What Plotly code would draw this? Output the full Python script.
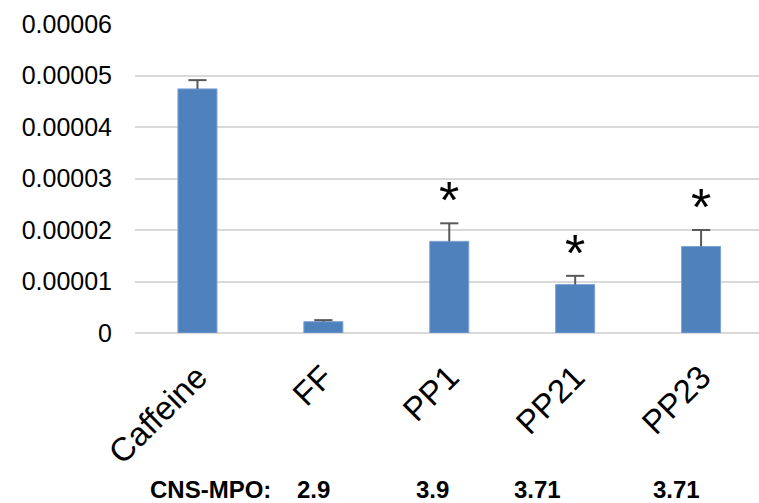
import plotly.graph_objects as go

categories = ["Caffeine", "FF", "PP1", "PP21", "PP23"]
values = [4.74e-5, 0.22e-5, 1.78e-5, 0.94e-5, 1.68e-5]
errors = [0.17e-5, 0.03e-5, 0.35e-5, 0.17e-5, 0.32e-5]
significant = [False, False, True, True, True]

y_tickvals = [0, 1e-5, 2e-5, 3e-5, 4e-5, 5e-5, 6e-5]
y_ticktext = ["0", "0.00001", "0.00002", "0.00003", "0.00004", "0.00005", "0.00006"]

mpo_label = "CNS-MPO:"
mpo_label_pixel_x = 210
mpo_values = ["2.9", "3.9", "3.71", "3.71"]
mpo_pixel_x = [313, 432, 537, 676]

W, H = 759, 503
ML, MR, MT, MB = 135, 0, 24, 170
PW = W - ML - MR
PH = H - MT - MB


def px_to_paper_x(px):
    return (px - ML) / PW


def py_to_paper_y(py):
    return (H - MB - py) / PH


err_tops = [v + e for v, e in zip(values, errors)]

fig = go.Figure()
fig.add_trace(go.Bar(
    x=categories, y=values,
    width=0.31,
    marker=dict(color="#4f81bd", line=dict(color="#7da3d3", width=1)),
    error_y=dict(type="data", array=errors, symmetric=False, arrayminus=[0] * len(errors),
                 color="#595959", thickness=2, width=0),
))
# error-bar caps (top only, as in the reference)
fig.add_trace(go.Scatter(
    x=categories, y=err_tops, mode="markers", hoverinfo="skip",
    marker=dict(symbol="line-ew", size=13, line=dict(color="#595959", width=2)),
))

annotations = []
for c, t, s in zip(categories, err_tops, significant):
    if s:
        annotations.append(dict(x=c, y=t, xref="x", yref="y", text="*",
                                showarrow=False, yanchor="middle", yshift=23,
                                font=dict(family="Liberation Sans, Arial", size=52, color="#000000")))

bold_font = dict(family="Liberation Sans Narrow, Arial Narrow, Liberation Sans", size=24,
                 color="#000000", weight="bold")
annotations.append(dict(x=px_to_paper_x(mpo_label_pixel_x), y=py_to_paper_y(489), xref="paper", yref="paper",
                        text=mpo_label, showarrow=False, xanchor="center", yanchor="middle",
                        font=bold_font))
for px, t in zip(mpo_pixel_x, mpo_values):
    annotations.append(dict(x=px_to_paper_x(px), y=py_to_paper_y(489), xref="paper", yref="paper",
                            text=t, showarrow=False, xanchor="center", yanchor="middle",
                            font=bold_font))

fig.update_layout(
    width=W, height=H,
    margin=dict(l=ML, r=MR, t=MT, b=MB, pad=0),
    plot_bgcolor="white", paper_bgcolor="white",
    showlegend=False,
    annotations=annotations,
    xaxis=dict(
        range=[-0.496, 4.46], showgrid=False, zeroline=False,
        showline=False, ticks="", tickangle=-45, ticklabelstandoff=17,
        tickfont=dict(family="Liberation Sans, Arial", size=33, color="#000000"),
    ),
    yaxis=dict(
        range=[0, 6e-5], tickvals=y_tickvals, ticktext=y_ticktext,
        showgrid=True, gridcolor="#d9d9d9", gridwidth=2,
        zeroline=True, zerolinecolor="#d9d9d9", zerolinewidth=2,
        showline=False, ticks="", ticklabelstandoff=22,
        tickfont=dict(family="Liberation Sans, Arial", size=25, color="#000000"),
    ),
)

fig.write_html("out.html")
